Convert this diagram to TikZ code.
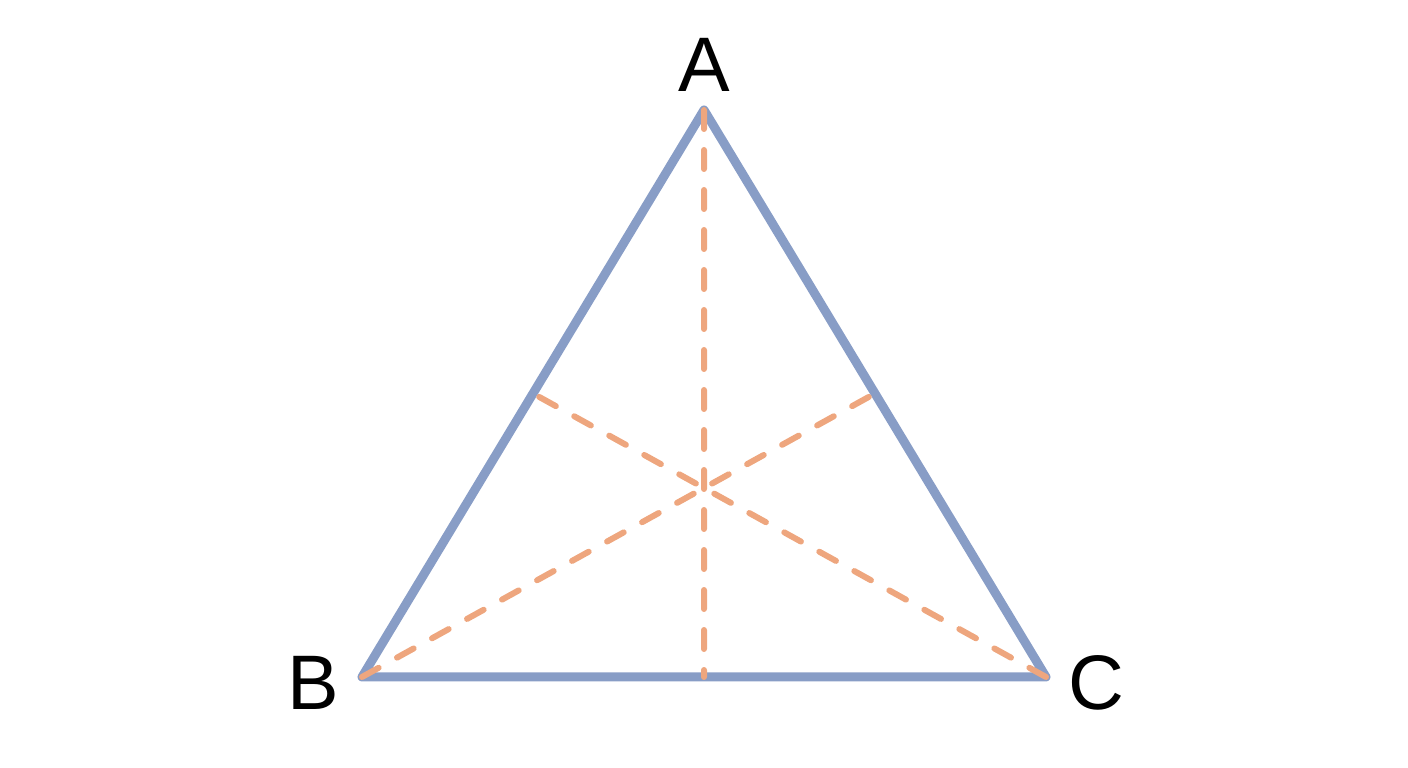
\documentclass[tikz,border=0pt]{standalone}
\usepackage{fontspec}
\setmainfont{Liberation Sans}
\usetikzlibrary{calc}
\definecolor{sideBlue}{RGB}{136,157,198}
\definecolor{medianOrange}{RGB}{238,166,126}

\begin{document}
\begin{tikzpicture}[text=black, median/.style={draw=medianOrange, line width=0.06cm, line cap=round, dash pattern=on 0.19cm off 0.21cm}]
		\useasboundingbox (0,0) rectangle (14.08,7.68);
		\coordinate (A) at (7.04,6.58);
		\coordinate (B) at (3.62,0.91);
		\coordinate (C) at (10.46,0.91);
		\coordinate (MA) at ($(B)!0.5!(C)$);
		\coordinate (MB) at ($(A)!0.5!(C)$);
		\coordinate (MC) at ($(A)!0.5!(B)$);
		\begin{scope}[every node/.style={font=\fontsize{22}{26}\selectfont}]
			\node (labelA) at (7.04,7.03) {A};
			\node (labelB) at (3.13,0.85) {B};
			\node (labelC) at (10.96,0.85) {C};
		\end{scope}

		\draw [sideBlue, line width=0.09cm, line join=round, line cap=round] (A) -- (B) -- (C) -- cycle;

		\draw [median] (A) -- (MA);
		\draw [median] (B) -- (MB);
		\draw [median] (C) -- (MC);
	\end{tikzpicture}
\end{document}
